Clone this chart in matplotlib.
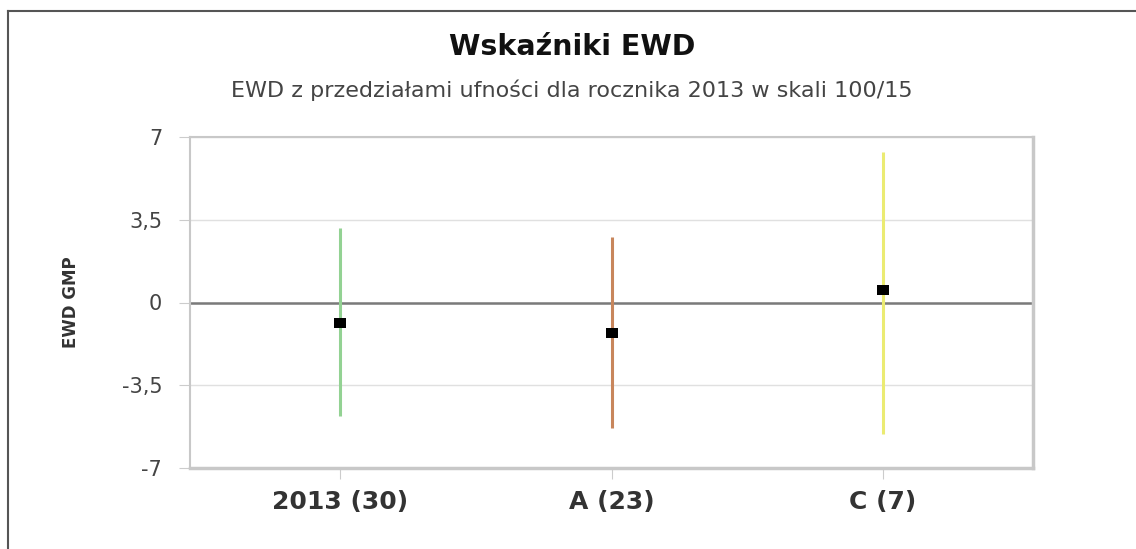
import matplotlib
matplotlib.use("Agg")
import matplotlib.pyplot as plt
from matplotlib.lines import Line2D

categories = ["2013 (30)", "A (23)", "C (7)"]
ewd = [-0.88, -1.3, 0.52]
lower = [-4.8, -5.3, -5.55]
upper = [3.15, 2.75, 6.35]
colors = ["#93d293", "#c8865c", "#ebeb72"]
yticks = [-7, -3.5, 0, 3.5, 7]
ytick_labels = ["-7", "-3,5", "0", "3,5", "7"]

fig = plt.figure(figsize=(11.36, 5.49), dpi=100)
ax = fig.add_axes([190 / 1136, 1 - 468 / 549, 843 / 1136, 331 / 549])

# wide black box marker, like the original
box = [(-1.3, -1), (1.3, -1), (1.3, 1), (-1.3, 1), (-1.3, -1)]
x = range(len(categories))
for i in x:
    ax.vlines(i, lower[i], upper[i], color=colors[i], lw=2.2, zorder=2)
    ax.plot(i, ewd[i], marker=box, ms=9, color="black", mew=0, zorder=3)
ax.axhline(0, color="#7a7a7a", lw=1.8, zorder=1)

ax.set_xlim(-0.555, 2.555)
ax.set_ylim(-7, 7)
ax.set_yticks(yticks)
ax.set_yticklabels(ytick_labels, fontsize=15, color="#444444")
ax.set_xticks(list(x))
ax.set_xticklabels(categories, fontsize=18, fontweight="bold", color="#333333")
ax.tick_params(axis="both", color="#cccccc", length=8)
ax.tick_params(axis="y", pad=12)
ax.tick_params(axis="x", pad=8)
ax.grid(axis="y", color="#e0e0e0", lw=1)
ax.set_axisbelow(True)
for s in ax.spines.values():
    s.set_color("#c8c8c8")
    s.set_linewidth(1.5)
ax.spines["right"].set_linewidth(2.5)
ax.spines["bottom"].set_linewidth(2.5)

ax.set_ylabel("EWD GMP", fontsize=12, fontweight="bold", color="#333333", labelpad=30)

fig.text(572 / 1136, 1 - 47 / 549, "Wskaźniki EWD", ha="center", va="center",
         fontsize=20.5, fontweight="bold", color="#111111")
fig.text(572 / 1136, 1 - 90 / 549,
         "EWD z przedziałami ufności dla rocznika 2013 w skali 100/15",
         ha="center", va="center", fontsize=16, color="#444444")

# outer frame
fig.add_artist(Line2D([8 / 1136, 8 / 1136], [0, 1 - 11 / 549], color="#555555", lw=1.5))
fig.add_artist(Line2D([8 / 1136, 1], [1 - 11 / 549, 1 - 11 / 549], color="#555555", lw=1.5))

fig.savefig("out.png", dpi=100)
